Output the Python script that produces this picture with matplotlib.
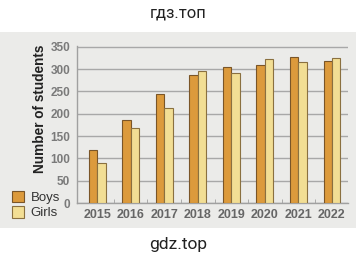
import matplotlib.pyplot as plt
import numpy as np
from matplotlib.patches import Rectangle

# data
years = ['2015', '2016', '2017', '2018', '2019', '2020', '2021', '2022']
boys = [118, 185, 244, 287, 304, 310, 327, 319]
girls = [90, 169, 214, 296, 292, 323, 317, 326]
y_ticks = [0, 50, 100, 150, 200, 250, 300, 350]

fig = plt.figure(figsize=(3.56, 2.68), dpi=100)
fig.patch.set_facecolor('white')

# grey photo panel behind the chart
panel = Rectangle((0, 1 - 228 / 268), 1, (228 - 32) / 268,
                  transform=fig.transFigure, facecolor='#ebebe9',
                  edgecolor='none', zorder=-5)
fig.add_artist(panel)

ax = fig.add_axes([77 / 356, 1 - 203 / 268, (348 - 77) / 356, (203 - 46) / 268])
ax.set_facecolor('none')
ax.set_zorder(2)

x = np.arange(len(years))
w = 0.25
ax.bar(x - w / 2, boys, w, color='#dc9a3c', edgecolor='#7a5528', linewidth=0.8,
       label='Boys', zorder=3)
ax.bar(x + w / 2, girls, w, color='#f2de94', edgecolor='#8a7040', linewidth=0.8,
       label='Girls', zorder=3)

ax.set_xlim(-0.6, 7.48)
ax.set_ylim(0, 352)
ax.set_yticks(y_ticks)
ax.set_xticks(x)
ax.set_xticklabels(years)
ax.set_xticks(x[:-1] + 0.5, minor=True)
ax.yaxis.grid(True, color='#a8a8a8', linewidth=1, zorder=0)
ax.set_axisbelow(True)

for s in ['top', 'right']:
    ax.spines[s].set_visible(False)
for s in ['left', 'bottom']:
    ax.spines[s].set_color('#a0a0a0')
    ax.spines[s].set_linewidth(1)

ax.tick_params(axis='y', length=0, pad=5, labelsize=8.5, labelcolor='#7a7a7a')
ax.tick_params(axis='x', which='major', length=0, pad=4, labelsize=9,
               labelcolor='#666666')
ax.tick_params(axis='x', which='minor', length=3, direction='in', color='#a0a0a0')
for lab in ax.get_xticklabels() + ax.get_yticklabels():
    lab.set_fontweight('bold')
    lab.set_family('Liberation Sans')

fig.text(40 / 356, 1 - 109 / 268, 'Number of students', rotation=90,
         ha='center', va='center', fontsize=9.8, fontweight='bold',
         family='Liberation Sans', color='#222222')

leg = ax.legend(loc='lower left', bbox_to_anchor=(5 / 356, 1 - 226 / 268),
                bbox_transform=fig.transFigure, frameon=False,
                handlelength=0.95, handleheight=1.0, handletextpad=0.5,
                labelspacing=0.15, borderpad=0,
                prop={'family': 'Liberation Sans', 'size': 9.5})
for t in leg.get_texts():
    t.set_color('#333333')

fig.text(0.5, 1 - 13 / 268, 'гдз.топ', ha='center', va='center', fontsize=12,
         family='Roboto', color='#222222')
fig.text(0.5, 1 - 245 / 268, 'gdz.top', ha='center', va='center', fontsize=12.5,
         family='Roboto', color='#222222')

fig.savefig('out.png', dpi=100)
